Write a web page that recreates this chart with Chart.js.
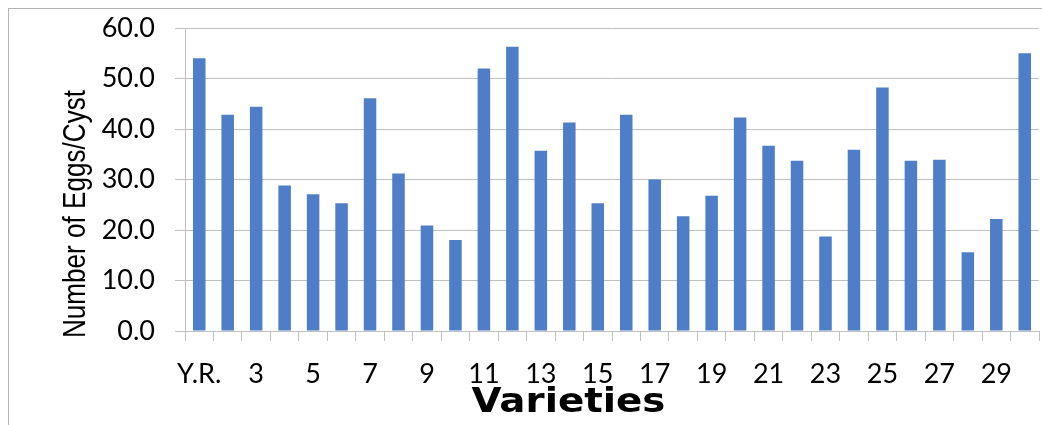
<!DOCTYPE html>
<html>
<head>
<meta charset="utf-8">
<script src="https://cdn.jsdelivr.net/npm/chart.js@4"></script>
<style>
html,body{margin:0;padding:0;background:#fff;}
#wrap{position:relative;width:1042px;height:425px;}
</style>
</head>
<body>
<div id="wrap"><canvas id="c" width="1042" height="425"></canvas></div>
<script>
const categories = ["Y.R.","2","3","4","5","6","7","8","9","10","11","12","13","14","15","16","17","18","19","20","21","22","23","24","25","26","27","28","29","30"];
const eggsPerCyst = [54.0,42.8,44.4,28.8,27.1,25.3,46.1,31.2,20.9,18.0,52.0,56.3,35.7,41.3,25.3,42.8,30.0,22.7,26.8,42.3,36.7,33.7,18.7,35.9,48.2,33.7,33.9,15.6,22.2,55.0];
const yTicks = [0,10,20,30,40,50,60];
const yTitle = "Number of Eggs/Cyst";
const xTitle = "Varieties";

const frame = {
  id: 'frame',
  beforeDraw(chart) {
    const ctx = chart.ctx;
    ctx.save();
    ctx.fillStyle = '#fff';
    ctx.fillRect(0, 0, chart.width, chart.height);
    ctx.strokeStyle = '#b4b4b4';
    ctx.lineWidth = 1;
    ctx.strokeRect(8.5, 8.5, 1100, 500);
    ctx.restore();
  },
  afterDraw(chart) {
    const ctx = chart.ctx;
    const a = chart.chartArea;
    // y axis title
    ctx.save();
    ctx.font = '32px "Liberation Sans", Arial, sans-serif';
    ctx.fillStyle = '#000';
    ctx.textAlign = 'center';
    ctx.textBaseline = 'alphabetic';
    let w = ctx.measureText(yTitle).width;
    ctx.translate(85, 214);
    ctx.rotate(-Math.PI / 2);
    ctx.scale(248 / w, 1);
    ctx.fillText(yTitle, 0, 0);
    ctx.restore();
    // x axis title
    ctx.save();
    ctx.font = 'bold 33px "DejaVu Sans", sans-serif';
    ctx.fillStyle = '#000';
    ctx.textAlign = 'center';
    ctx.textBaseline = 'alphabetic';
    w = ctx.measureText(xTitle).width;
    ctx.translate(a.left + (a.right - a.left) * 0.449, 412);
    ctx.scale(194 / w, 1);
    ctx.fillText(xTitle, 0, 0);
    ctx.restore();
  }
};

new Chart(document.getElementById('c'), {
  type: 'bar',
  data: {
    labels: categories,
    datasets: [{
      label: yTitle,
      data: eggsPerCyst,
      backgroundColor: '#4f7ec9',
      borderWidth: 0,
      categoryPercentage: 1.0,
      barPercentage: 0.44
    }]
  },
  options: {
    responsive: false,
    animation: false,
    devicePixelRatio: 1,
    layout: { padding: { left: 0, right: 3, top: 28, bottom: 0 } },
    plugins: { legend: { display: false }, tooltip: { enabled: false }, title: { display: false } },
    scales: {
      x: {
        grid: { display: true, drawOnChartArea: false, drawTicks: true, tickLength: 10, offset: true, color: '#bfbfbf' },
        border: { display: true, color: '#bfbfbf' },
        ticks: {
          autoSkip: false, maxRotation: 0, minRotation: 0, padding: 17,
          color: '#000', font: { family: 'Lato, "Open Sans", sans-serif', size: 27 },
          callback: function (v, i) { return i % 2 === 0 ? categories[i] : ''; }
        },
        afterFit: function (s) { s.height = 94; s.paddingLeft = 0; s.paddingRight = 0; }
      },
      y: {
        min: yTicks[0], max: yTicks[yTicks.length - 1],
        afterBuildTicks: function (s) { s.ticks = yTicks.map(v => ({ value: v })); },
        grid: { color: '#bfbfbf', tickLength: 10, drawTicks: true },
        border: { display: true, color: '#bfbfbf' },
        ticks: {
          padding: 20, color: '#000', font: { family: 'Lato, "Open Sans", sans-serif', size: 27 },
          callback: function (v) { return Number(v).toFixed(1); }
        },
        afterFit: function (s) { s.width = 185; s.paddingTop = 0; s.paddingBottom = 0; }
      }
    }
  },
  plugins: [frame]
});
</script>
</body>
</html>
